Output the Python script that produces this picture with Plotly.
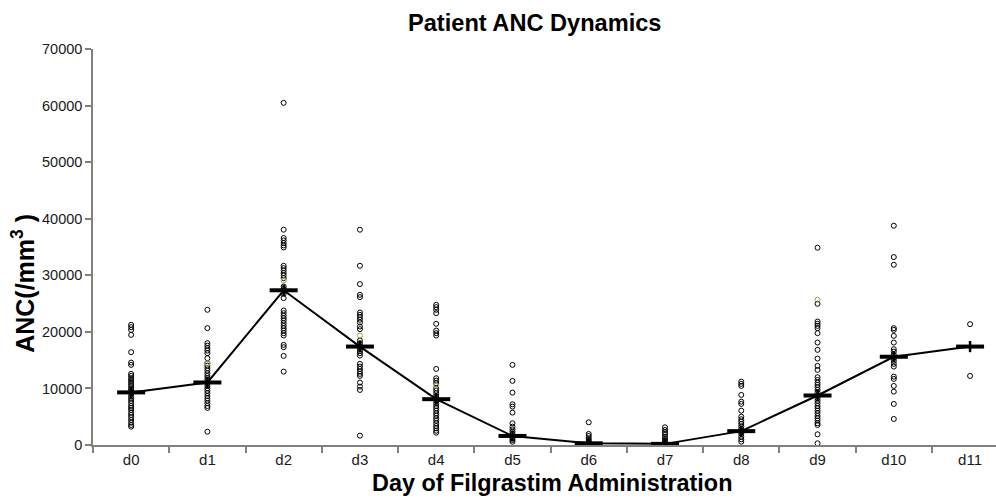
import plotly.graph_objects as go

days = ["d0", "d1", "d2", "d3", "d4", "d5", "d6", "d7", "d8", "d9", "d10", "d11"]

d0 = [21240, 20830, 20350, 19470, 16410, 14570, 14160, 12570, 12210, 11800, 11500, 11150, 10800,
      10440, 10030, 9735, 9380, 9030, 8550, 8200, 7790, 7380, 6900, 6550, 6195, 5720, 5310, 4900,
      4425, 3950, 3540, 3240]
d1 = [23900, 20650, 18000, 17570, 17110, 16690, 16230, 15340, 14460, 14040, 13580, 13160, 12690,
      12210, 11800, 11380, 10920, 10440, 10030, 9600, 9150, 8670, 8260, 7840, 7380, 6900, 6550, 2350]
d2 = [60480, 38060, 36590, 36170, 35700, 35280, 34920, 31680, 31270, 30850, 30390, 29960, 29500,
      28020, 27610, 27140, 26730, 25960, 23770, 23310, 22840, 22420, 22000, 21540, 21060, 20650,
      20230, 19770, 19350, 17700, 17290, 15750, 12970]
d3 = [38060, 31680, 28440, 26550, 26140, 23420, 23010, 22600, 22130, 21660, 20940, 20480, 18470,
      18010, 17520, 17110, 16640, 16230, 15810, 14340, 13860, 13450, 12980, 12570, 12210, 11030,
      10320, 9735, 1650]
d4 = [24780, 24370, 23900, 23310, 21420, 20230, 19770, 19350, 13450, 11800, 11380, 10920, 10030,
      9600, 9150, 8670, 8260, 7840, 7380, 6900, 6490, 6070, 5610, 5190, 4720, 4300, 3840, 3360,
      2950, 2530, 2180]
d5 = [14160, 11330, 9260, 7200, 6780, 5720, 3840, 3240, 2770, 2350, 1950, 1190, 885, 585]
d6 = [4010, 1950, 1590, 1190, 885, 585, 300]
d7 = [3130, 2650, 2250, 1950, 1470, 1190, 885, 585, 300]
d8 = [11200, 10800, 10440, 8850, 7660, 7260, 6070, 5010, 4550, 4125, 3720, 3240, 2830, 2350,
      1950, 1470, 1010, 585]
d9 = [34870, 24960, 21820, 21420, 21060, 20650, 19770, 18110, 16820, 15280, 13980, 13280, 11980,
      11500, 11030, 10620, 10200, 9735, 9260, 8730, 8260, 7840, 7380, 6900, 6490, 6070, 5610,
      5130, 4720, 4300, 3840, 3540, 1890, 300]
d10 = [38760, 33220, 31860, 20650, 20350, 19290, 18110, 16940, 16510, 15930, 15340, 14870, 14340,
       13860, 12090, 11680, 10440, 9430, 7260, 4600]
d11 = [21360, 12210]

green_days = ["d1", "d2", "d3", "d4", "d5", "d9"]
green_vals = [14460, 29080, 19350, 10500, 1590, 25670]

mean_vals = [9300, 11050, 27350, 17400, 8100, 1600, 300, 200, 2450, 8750, 15600, 17400]

series = [d0, d1, d2, d3, d4, d5, d6, d7, d8, d9, d10, d11]

fig = go.Figure()

xs, ys = [], []
for day, vals in zip(days, series):
    xs += [day] * len(vals)
    ys += vals

fig.add_trace(go.Scatter(
    x=xs, y=ys, mode="markers",
    marker=dict(symbol="circle-open", size=5, color="black", line=dict(width=1, color="black")),
    showlegend=False, hoverinfo="skip"))

fig.add_trace(go.Scatter(
    x=green_days, y=green_vals, mode="markers",
    marker=dict(symbol="circle-open", size=5, color="#8aa84a", line=dict(width=1, color="#8aa84a")),
    showlegend=False, hoverinfo="skip"))

fig.add_trace(go.Scatter(
    x=days, y=mean_vals, mode="lines",
    line=dict(color="black", width=2),
    showlegend=False, hoverinfo="skip"))

fig.add_trace(go.Scatter(
    x=days, y=mean_vals, mode="markers",
    marker=dict(symbol="line-ew", size=20, line=dict(width=4, color="black")),
    showlegend=False, hoverinfo="skip"))

fig.add_trace(go.Scatter(
    x=days, y=mean_vals, mode="markers",
    marker=dict(symbol="line-ns", size=8, line=dict(width=2.5, color="black")),
    showlegend=False, hoverinfo="skip"))

font_family = "Liberation Sans, Arial, sans-serif"

fig.update_layout(
    width=996, height=501,
    margin=dict(l=93, r=0, t=49, b=56),
    paper_bgcolor="white", plot_bgcolor="white",
    font=dict(family=font_family, size=14, color="#1a1a1a"),
    xaxis=dict(
        type="category", categoryorder="array", categoryarray=days,
        range=[-0.5, 11.34],
        showline=True, linecolor="#808080", linewidth=1.5,
        ticks="outside", tickson="boundaries", ticklen=6, tickcolor="#808080", tickwidth=1.5,
        showgrid=False, zeroline=False,
        tickfont=dict(size=15, color="#1a1a1a"),
    ),
    yaxis=dict(
        range=[0, 70000], tickvals=[0, 10000, 20000, 30000, 40000, 50000, 60000, 70000],
        ticktext=["0", "10000", "20000", "30000", "40000", "50000", "60000", "70000"],
        showline=True, linecolor="#808080", linewidth=1.5,
        ticks="outside", ticklen=6, tickcolor="#808080", tickwidth=1.5,
        showgrid=False, zeroline=False,
        tickfont=dict(size=14.5, color="#1a1a1a"),
    ),
    annotations=[
        dict(text="<b>Patient ANC Dynamics</b>", xref="paper", yref="paper",
             x=0.489, y=1, yshift=26, xanchor="center", yanchor="middle", showarrow=False,
             font=dict(size=23.6, color="black", family=font_family)),
        dict(text="<b>Day of Filgrastim Administration</b>", xref="paper", yref="paper",
             x=0.508, y=0, yshift=-38, xanchor="center", yanchor="middle", showarrow=False,
             font=dict(size=23.4, color="black", family=font_family)),
        dict(text="<b>ANC(/mm<sup>3</sup> )</b>", xref="paper", yref="paper",
             x=0, xshift=-70, y=0.407, xanchor="center", yanchor="middle", showarrow=False,
             textangle=-90,
             font=dict(size=25, color="black", family=font_family)),
    ],
)

fig.write_html("out.html", config={"displayModeBar": False},
               post_script="document.body.style.margin='0px';document.body.style.overflow='hidden';")
